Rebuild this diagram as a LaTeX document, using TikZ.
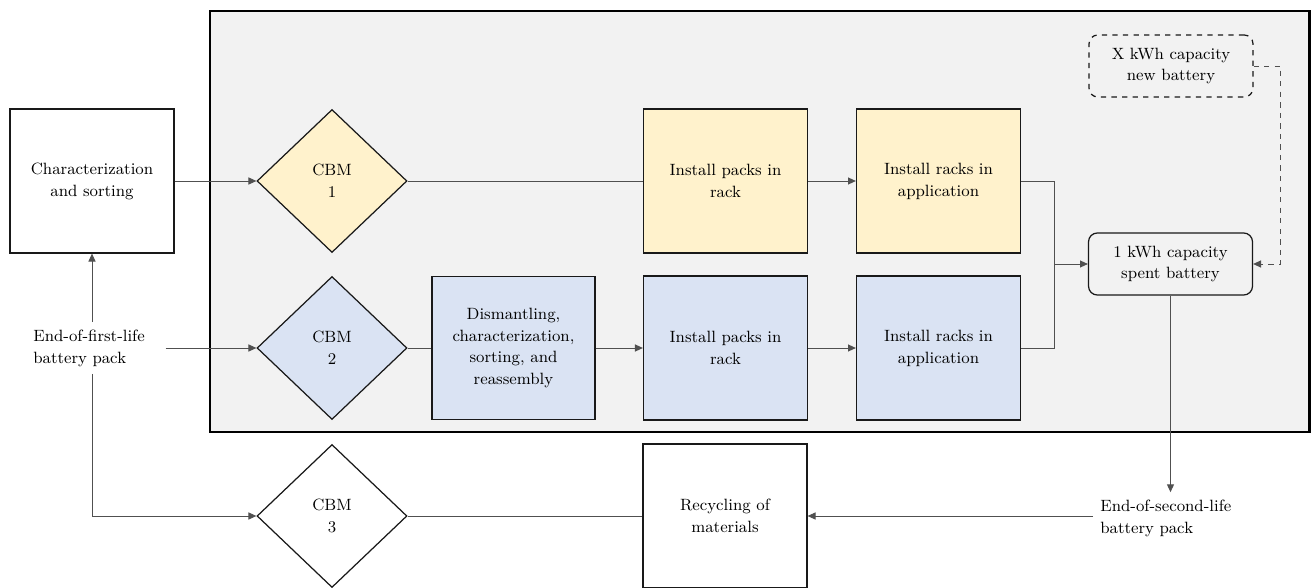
\documentclass[tikz,border=0pt]{standalone}
\usetikzlibrary{shapes.geometric,arrows.meta}

\definecolor{bgGray}{HTML}{F2F2F2}
\definecolor{packYellow}{HTML}{FFF2CC}
\definecolor{packBlue}{HTML}{DAE3F3}
\definecolor{lineGray}{HTML}{505050}

\begin{document}
\begin{tikzpicture}[x=0.02cm, y=-0.02cm,
    font=\fontsize{9.3}{12.5}\selectfont,
    box/.style={draw=black!90, line width=0.7pt, rectangle, align=center,
                minimum width=3.28cm, minimum height=2.88cm, inner sep=2pt},
    cbm/.style={draw=black!90, line width=0.7pt, diamond, align=center,
                minimum width=3cm, minimum height=2.86cm, inner sep=0pt},
    note/.style={draw=black!90, line width=0.7pt, rounded corners=5pt, align=center,
                 minimum width=3.28cm, minimum height=1.24cm, inner sep=2pt},
    plain/.style={align=left, inner sep=4pt, text width=2.8cm},
    link/.style={draw=lineGray, line width=0.55pt},
    arr/.style={link, -{Triangle[length=4.5pt,width=4pt]}}]

    \useasboundingbox (0,0) rectangle (1313,588);

    % second-life area
    \draw[line width=1.7pt, fill=bgGray] (210,11) rectangle (1309,432);

    \node[box] (sort) at (92,181) {Characterization\\and sorting};
    \node[plain, anchor=west] (eofl) at (26,348) {End-of-first-life\\battery pack};

    \node[cbm, fill=packYellow] (cbm1) at (332,181) {CBM\\1};
    \node[cbm, fill=packBlue] (cbm2) at (332,348) {CBM\\2};
    \node[cbm, fill=white] (cbm3) at (332,516) {CBM\\3};

    \node[box, fill=packYellow] (ypacks) at (725.5,181) {Install packs in\\rack};
    \node[box, fill=packYellow] (yracks) at (938.5,181) {Install racks in\\application};

    \node[box, fill=packBlue, minimum width=3.26cm, minimum height=2.86cm] (dism) at (513.5,348)
        {Dismantling,\\characterization,\\sorting, and\\reassembly};
    \node[box, fill=packBlue] (bpacks) at (725.5,348) {Install packs in\\rack};
    \node[box, fill=packBlue] (bracks) at (938.5,348) {Install racks in\\application};

    \node[box, fill=white] (recyc) at (725,516) {Recycling of\\materials};

    \node[note, fill=bgGray] (spent) at (1170.5,264) {1 kWh capacity\\spent battery};
    \node[note, dashed, fill=bgGray] (newb) at (1171,66) {X kWh capacity\\new battery};

    \node[plain, anchor=west] (eosl) at (1093,518) {End-of-second-life\\battery pack};

    \coordinate (merge) at (1054,264);

    % connectors
    \draw[arr] (sort.east) -- (cbm1.west);
    \draw[arr] (eofl.north -| sort.south) -- (sort.south);
    \draw[arr] (eofl.east) ++(-0.3cm,0) -- (cbm2.west);
    \draw[arr] (eofl.south -| sort.south) |- (cbm3.west);

    \draw[link] (cbm1.east) -- (ypacks.west);
    \draw[arr] (ypacks.east) -- (yracks.west);
    \draw[link] (cbm2.east) -- (dism.west);
    \draw[arr] (dism.east) -- (bpacks.west);
    \draw[arr] (bpacks.east) -- (bracks.west);
    \draw[link] (cbm3.east) -- (recyc.west);

    \draw[link] (yracks.east) -| (merge);
    \draw[link] (bracks.east) -| (merge);
    \draw[arr] (merge) -- (spent.west);
    \draw[arr, dashed] (newb.east) -- ++(27,0) |- (spent.east);

    \draw[arr] (spent.south) -- (spent.south |- eosl.north);
    \draw[arr] (eosl.west |- recyc.east) -- (recyc.east);
\end{tikzpicture}
\end{document}
